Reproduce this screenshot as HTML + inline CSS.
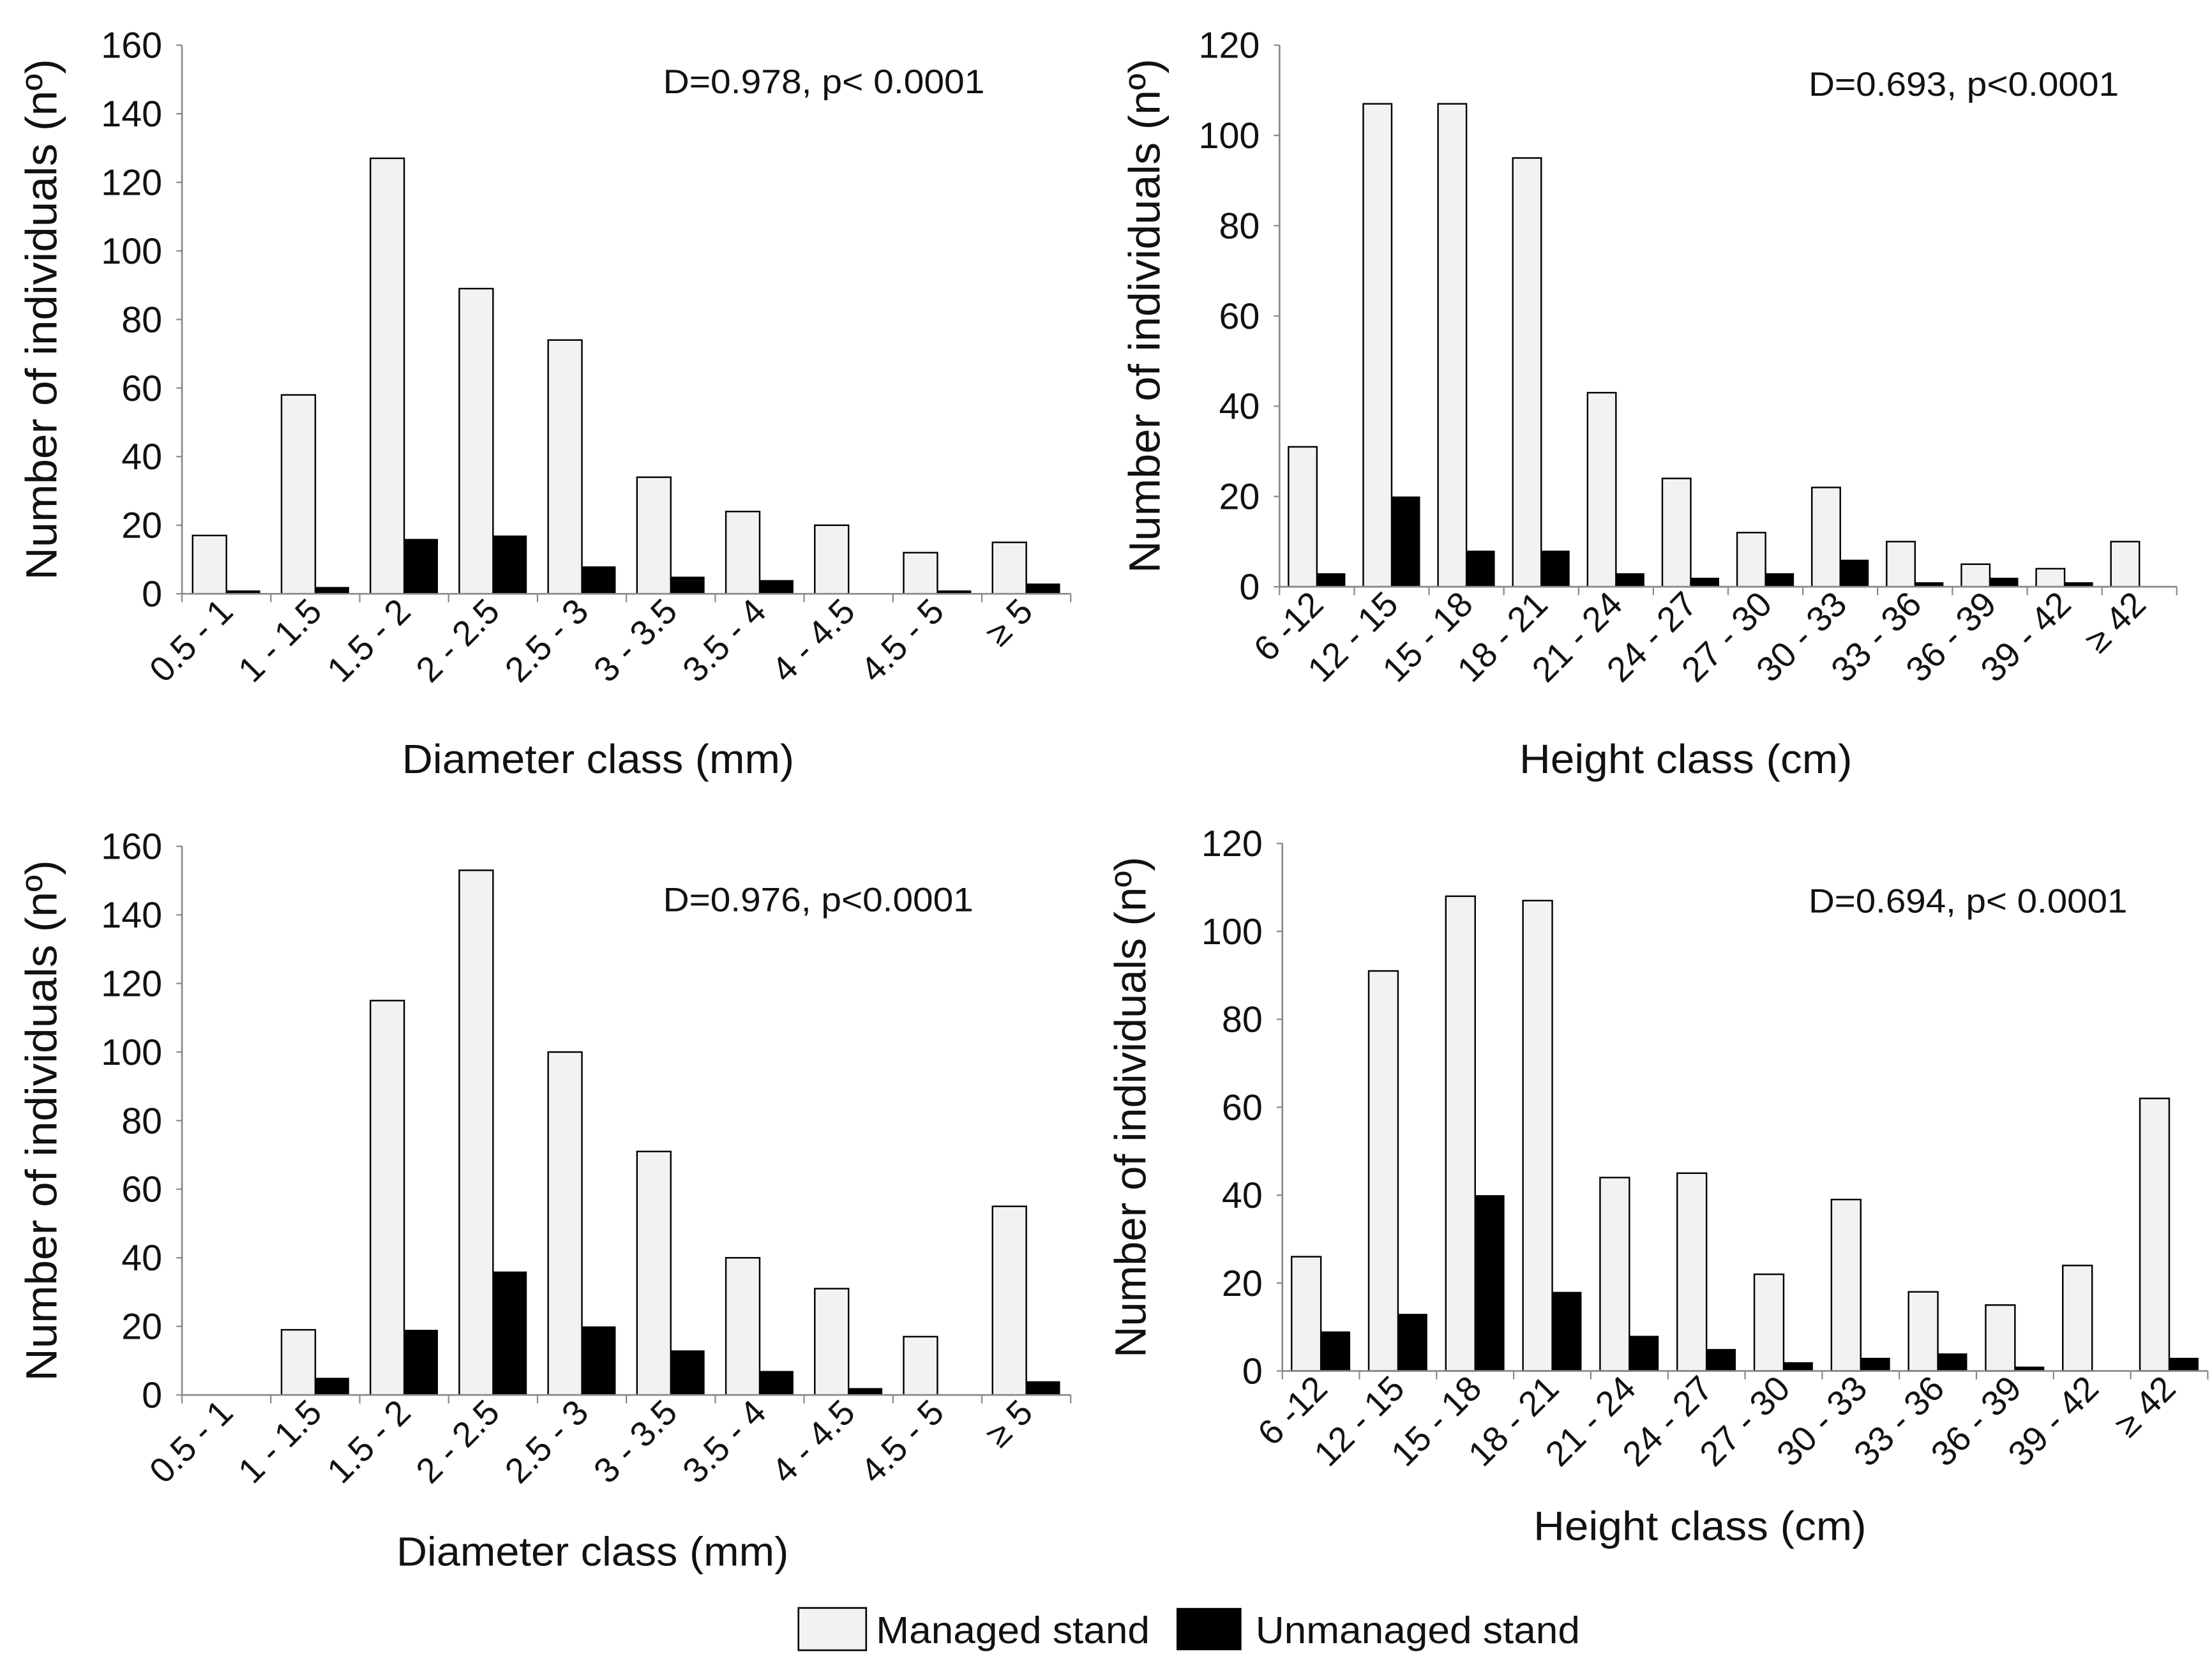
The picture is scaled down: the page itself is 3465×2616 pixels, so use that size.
<!DOCTYPE html>
<html><head><meta charset="utf-8"><style>
html,body{margin:0;padding:0;background:#fff;}
svg{display:block;font-family:"Liberation Sans",Arial,sans-serif;}
</style></head><body>
<svg id="fig" width="3465" height="2616" viewBox="0 0 1568 1184" preserveAspectRatio="none" xmlns="http://www.w3.org/2000/svg">
<rect width="1568" height="1184" fill="#fff"/>
<g id="legend">
 <rect x="566" y="1140" width="48" height="30" fill="#f2f2f2" stroke="#000" stroke-width="1.2"/>
 <text x="621" y="1165" font-size="27" fill="#111" textLength="194" lengthAdjust="spacingAndGlyphs">Managed stand</text>
 <rect x="834" y="1140" width="46" height="30" fill="#000"/>
 <text x="890" y="1165" font-size="27" fill="#111" textLength="230" lengthAdjust="spacingAndGlyphs">Unmanaged stand</text>
</g>
</svg>
<script>
const diamCats = ["0.5 - 1","1 - 1.5","1.5 - 2","2 - 2.5","2.5 - 3","3 - 3.5","3.5 - 4","4 - 4.5","4.5 - 5","\u2265 5"];
const heightCats = ["6 -12","12 - 15","15 - 18","18 - 21","21 - 24","24 - 27","27 - 30","30 - 33","33 - 36","36 - 39","39 - 42","\u2265 42"];
const tlManaged = [17,58,127,89,74,34,24,20,12,15];
const tlUnmanaged = [1,2,16,17,8,5,4,0,1,3];
const trManaged = [31,107,107,95,43,24,12,22,10,5,4,10];
const trUnmanaged = [3,20,8,8,3,2,3,6,1,2,1,0];
const blManaged = [0,19,115,153,100,71,40,31,17,55];
const blUnmanaged = [0,5,19,36,20,13,7,2,0,4];
const brManaged = [26,91,108,107,44,45,22,39,18,15,24,62];
const brUnmanaged = [9,13,40,18,8,5,2,3,4,1,0,3];
const diamTicks = [0,20,40,60,80,100,120,140,160];
const heightTicks = [0,20,40,60,80,100,120];

const NS="http://www.w3.org/2000/svg";
const svg=document.getElementById('fig');
function mk(tag,attrs,parent){const e=document.createElementNS(NS,tag);for(const k in attrs)e.setAttribute(k,attrs[k]);(parent||svg).appendChild(e);return e;}

const panels=[
 {id:'top-left',x0:129,x1:759,y0:421,yt:32,ticks:diamTicks,cats:diamCats,m:tlManaged,u:tlUnmanaged,xt:'Diameter class (mm)',xtx:424,xty:548,xtw:278,ytx:40,ann:'D=0.978, p< 0.0001',ax:470,ay:66,aw:228},
 {id:'top-right',x0:907,x1:1543,y0:416,yt:32,ticks:heightTicks,cats:heightCats,m:trManaged,u:trUnmanaged,xt:'Height class (cm)',xtx:1195,xty:548,xtw:236,ytx:822,ann:'D=0.693, p<0.0001',ax:1282,ay:68,aw:220},
 {id:'bottom-left',x0:129,x1:759,y0:989,yt:600,ticks:diamTicks,cats:diamCats,m:blManaged,u:blUnmanaged,xt:'Diameter class (mm)',xtx:420,xty:1110,xtw:278,ytx:40,ann:'D=0.976, p<0.0001',ax:470,ay:646,aw:220},
 {id:'bottom-right',x0:909,x1:1565,y0:972,yt:598,ticks:heightTicks,cats:heightCats,m:brManaged,u:brUnmanaged,xt:'Height class (cm)',xtx:1205,xty:1092,xtw:236,ytx:812,ann:'D=0.694, p< 0.0001',ax:1282,ay:647,aw:226}
];

panels.forEach(p=>{
 const g=mk('g',{});
 
 
 const max=p.ticks[p.ticks.length-1];
 const ys=v=>p.y0-(v/max)*(p.y0-p.yt);
 const n=p.cats.length, cw=(p.x1-p.x0)/n, bw=cw*0.38, off=cw*0.12;
 p.cats.forEach((c,i)=>{
  const bx=p.x0+i*cw+off;
  const r1=mk('rect',{x:bx,y:ys(p.m[i]),width:bw,height:p.y0-ys(p.m[i]),fill:'#f2f2f2',stroke:'#000','stroke-width':1.1},g);
  
  
  const r2=mk('rect',{x:bx+bw,y:ys(p.u[i]),width:bw,height:p.y0-ys(p.u[i]),fill:'#000'},g);
  
  
  const t=mk('text',{'text-anchor':'end','font-size':25,fill:'#111',transform:`translate(${p.x0+(i+0.5)*cw+6},${p.y0+14}) rotate(-45)`},g);
  t.textContent=c;
  
  
 });
 const ya=mk('line',{x1:p.x0,y1:p.yt,x2:p.x0,y2:p.y0,stroke:'#888','stroke-width':1.2},g);
 
 
 const xa=mk('line',{x1:p.x0,y1:p.y0,x2:p.x1,y2:p.y0,stroke:'#888','stroke-width':1.2},g);
 
 
 for(let i=0;i<=n;i++){mk('line',{x1:p.x0+i*cw,y1:p.y0,x2:p.x0+i*cw,y2:p.y0+6,stroke:'#888','stroke-width':1},g);}
 p.ticks.forEach(v=>{
  mk('line',{x1:p.x0-4,y1:ys(v),x2:p.x0,y2:ys(v),stroke:'#888','stroke-width':1},g);
  const t=mk('text',{x:p.x0-14,y:ys(v)+9,'text-anchor':'end','font-size':26,fill:'#111'},g);
  t.textContent=v;
  
  
 });
 const yt=mk('text',{'text-anchor':'middle','font-size':31,fill:'#111',textLength:(p.y0-p.yt)*0.95,lengthAdjust:'spacingAndGlyphs',transform:`translate(${p.ytx},${(p.y0+p.yt)/2}) rotate(-90)`},g);
 yt.textContent='Number of individuals (n\u00ba)';
 
 
 const xt=mk('text',{x:p.xtx,y:p.xty,'text-anchor':'middle','font-size':29,fill:'#111',textLength:p.xtw,lengthAdjust:'spacingAndGlyphs'},g);
 xt.textContent=p.xt;
 
 
 const an=mk('text',{x:p.ax,y:p.ay,'font-size':24,fill:'#111',textLength:p.aw,lengthAdjust:'spacingAndGlyphs'},g);
 an.textContent=p.ann;
 
 
});
</script>
</body></html>
